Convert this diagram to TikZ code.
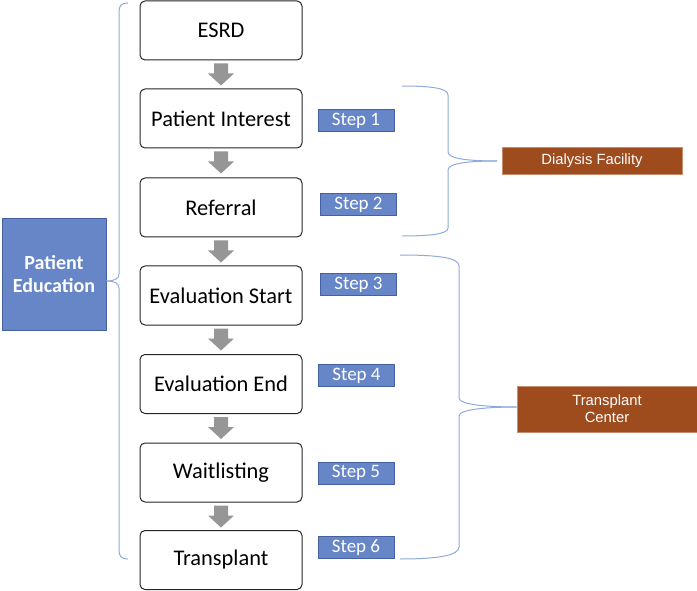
\documentclass[tikz,border=0pt]{standalone}
\usepackage{fontspec}
\setmainfont{Carlito}
\newfontfamily\arialf{Liberation Sans}
\definecolor{stepblue}{RGB}{103,134,199}
\definecolor{stepborder}{RGB}{68,98,160}
\definecolor{orgbrown}{RGB}{158,75,30}
\definecolor{orgborder}{RGB}{200,140,110}
\definecolor{braceblue}{RGB}{143,170,220}
\definecolor{arrowgray}{RGB}{150,150,150}
\begin{document}
\begin{tikzpicture}[x=1pt,y=-1pt,
  flow/.style={draw=black!85, line width=1pt, rounded corners=5pt, fill=white,
    minimum width=162pt, minimum height=59pt, inner sep=0pt,
    font=\fontsize{22.4}{26}\selectfont},
  stepbox/.style={fill=stepblue, draw=stepborder, line width=1pt,
    minimum width=76pt, minimum height=22pt, inner sep=0pt, text=white,
    font=\fontsize{19}{21}\selectfont},
  org/.style={fill=orgbrown, draw=orgborder, line width=0.6pt, text=white,
    align=center, minimum width=180pt, inner sep=0pt,
    font=\arialf\fontsize{14.8}{17}\selectfont},
  educ/.style={fill=stepblue, draw=stepborder, line width=1pt, text=white,
    align=center, minimum width=104pt, minimum height=111pt, inner sep=0pt,
    font=\bfseries\fontsize{20}{23}\selectfont},
  brace/.style={draw=braceblue, line width=1pt},
  downarrow/.style={fill=arrowgray}
]
\useasboundingbox (0,0) rectangle (697,591);

% flow boxes
\node[flow] (esrd) at (221,30.5) {ESRD};
\node[flow] (pi)   at (221,118.5) {Patient Interest};
\node[flow] (ref)  at (221,207.5) {Referral};
\node[flow] (es)   at (221,295.5) {Evaluation Start};
\node[flow] (ee)   at (221,384) {Evaluation End};
\node[flow] (wl)   at (221,472.5) {Waitlisting};
\node[flow] (tx)   at (221,560) {Transplant};

% gray arrows
\foreach \a in {esrd,pi,ref,es,ee,wl}{
  \fill[downarrow, shift={(\a.south)}]
    (-7,3) -- (7,3) -- (7,13) -- (13,13) -- (0,25) -- (-13,13) -- (-7,13) -- cycle;
}

% step labels
\node[stepbox] (s1) at (356,121) {Step 1};
\node[stepbox] (s2) at (358.5,204.5) {Step 2};
\node[stepbox] (s3) at (358.5,284.5) {Step 3};
\node[stepbox] (s4) at (356.5,375.5) {Step 4};
\node[stepbox] (s5) at (356,473) {Step 5};
\node[stepbox] (s6) at (356,547.5) {Step 6};

% organisation boxes
\node[org, minimum height=27pt] (dial) at (592,160.5) {Dialysis Facility};
\node[org, minimum height=46pt] (tc) at (607,409) {Transplant\\Center};

% patient education
\node[educ] (pe) at (54,274.5) {Patient\\Education};

% braces
\coordinate (petip) at (pe.east |- 0,281);
\draw[brace] (128,3) .. controls (121,3) and (119,6) .. (119,12) -- (119,274)
  .. controls (119,279) and (114,281) .. (petip);
\draw[brace] (petip) .. controls (114,281) and (119,283) .. (119,288) -- (119,550)
  .. controls (119,556) and (121,559) .. (128,559);

\coordinate (dtip) at (497,161);
\draw[brace] (402,86) .. controls (430,86) and (448,88) .. (448,95) -- (448,152)
  .. controls (448,159) and (470,161) .. (dtip);
\draw[brace] (dtip) .. controls (470,161) and (448,163) .. (448,170) -- (448,228)
  .. controls (448,234) and (430,236) .. (402,236);

\coordinate (ttip) at (tc.west |- 0,407);
\draw[brace] (400,255) .. controls (440,255) and (459,258) .. (459,266) -- (459,398)
  .. controls (459,405) and (490,407) .. (ttip);
\draw[brace] (ttip) .. controls (490,407) and (459,409) .. (459,416) -- (459,547)
  .. controls (459,555) and (440,559) .. (400,559);
\end{tikzpicture}
\end{document}
